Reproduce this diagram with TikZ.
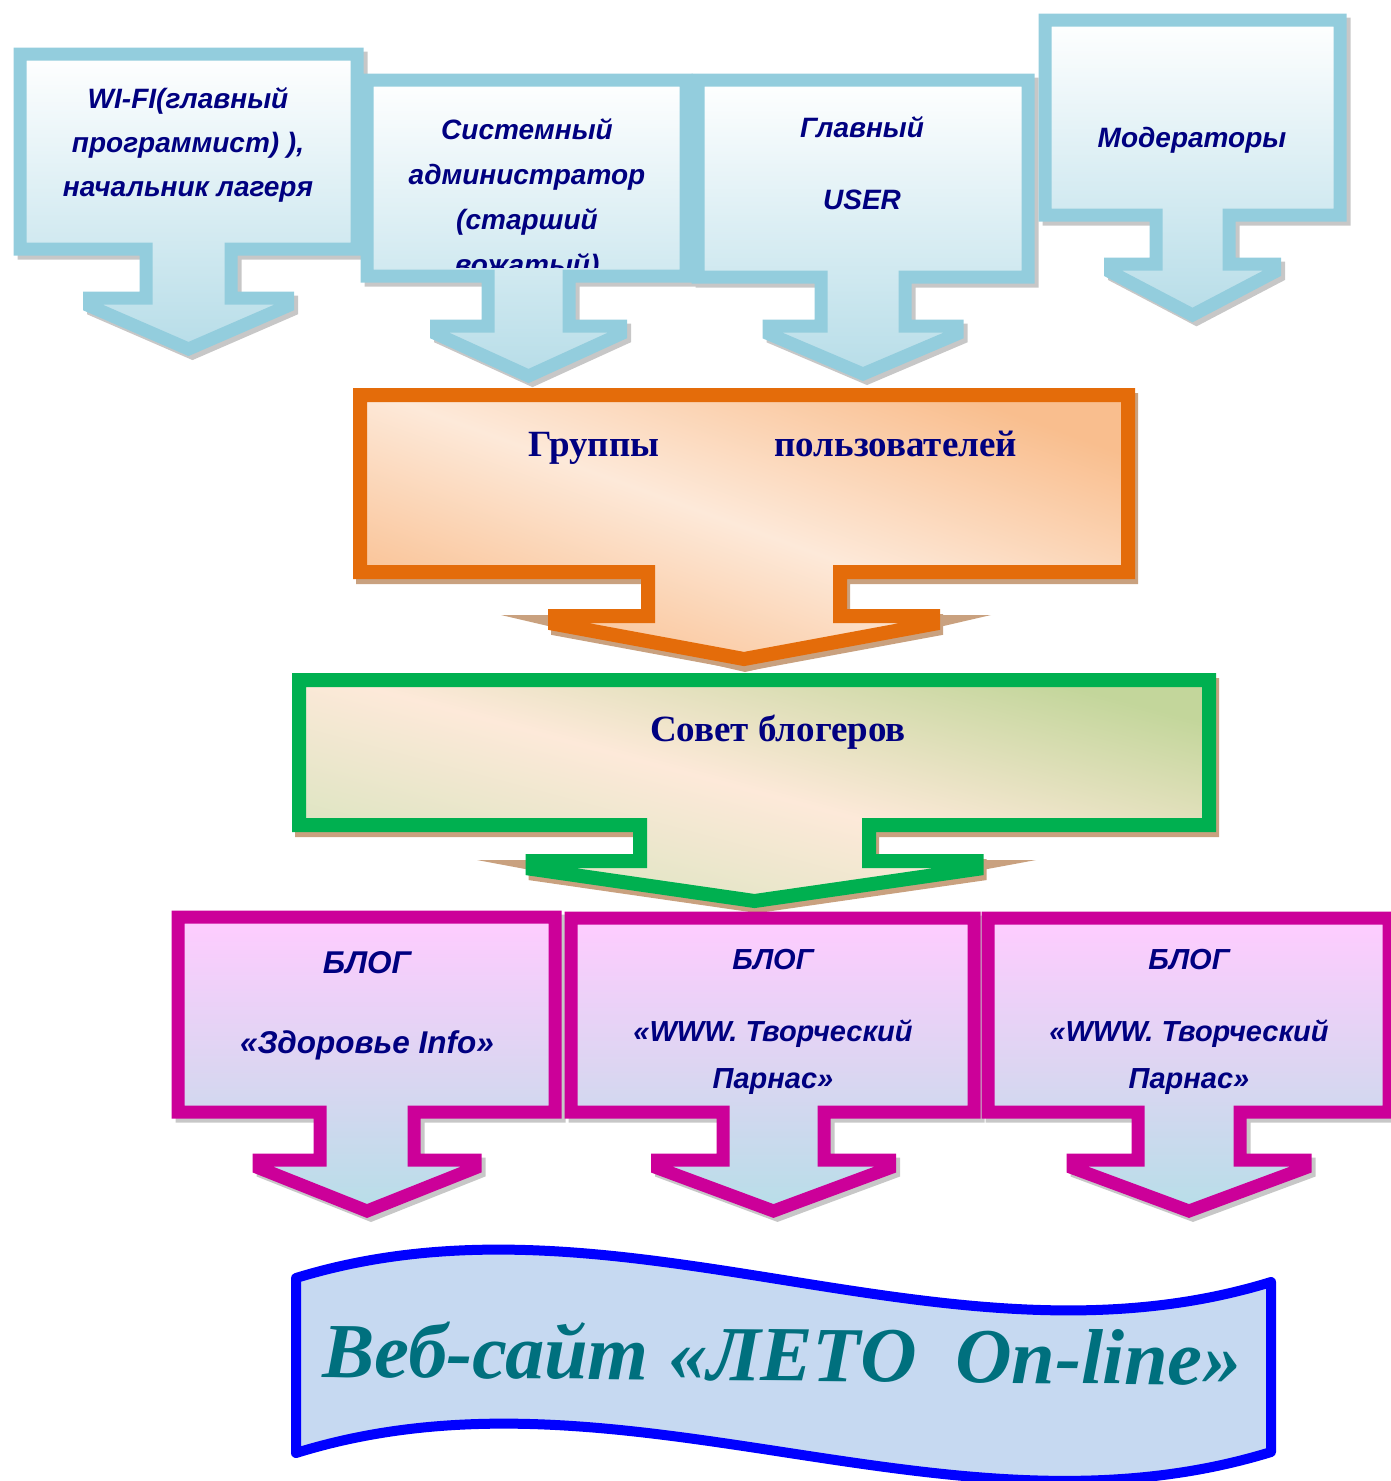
\documentclass[tikz,border=0pt]{standalone}
\usepackage{fontspec}
\setmainfont{Liberation Serif}
\setsansfont{Liberation Sans}
\definecolor{bluebd}{HTML}{93CDDD}
\definecolor{bluefill}{HTML}{B7DDE8}
\definecolor{orangebd}{HTML}{E46C0A}
\definecolor{peach}{HTML}{FDE9D9}
\definecolor{peachdk}{HTML}{F9BE8E}
\definecolor{greenbd}{HTML}{00B050}
\definecolor{olivefill}{HTML}{C3D69B}
\definecolor{greenlt}{HTML}{D7E4BD}
\definecolor{magbd}{HTML}{CC0099}
\definecolor{pinkfill}{HTML}{FFCCFF}
\definecolor{lavfill}{HTML}{DDD5F2}
\definecolor{blogblue}{HTML}{B7DEE8}
\definecolor{navytext}{HTML}{000080}
\definecolor{shadowtan}{HTML}{C9A17F}
\definecolor{bannerbd}{HTML}{0000FF}
\definecolor{bannerfill}{HTML}{C6D9F1}
\definecolor{webteal}{HTML}{00707E}
\newcommand\wingdrop{8}
\newcommand\callout[9]{(#1,#2) -- (#3,#2) -- (#3,#4) -- (#6,#4) -- (#6,#7) -- ({(#5+#6)/2+#8},#7) -- ({(#5+#6)/2+#8},{#7+\wingdrop}) -- ({(#5+#6)/2},#9) -- ({(#5+#6)/2-#8},{#7+\wingdrop}) -- ({(#5+#6)/2-#8},#7) -- (#5,#7) -- (#5,#4) -- (#1,#4) -- cycle}
\begin{document}
\begin{tikzpicture}[x=1pt,y=-1pt,
  bluebox/.style={draw=bluebd, line width=13, line join=miter, top color=white, bottom color=bluefill},
  greyshadow/.style={draw=black!22, fill=black!22, line width=13, line join=miter, shift={(4,4)}},
  tanshadow/.style={draw=shadowtan, fill=shadowtan, line width=14, line join=miter, shift={(3,5)}},
  orangebox/.style={draw=orangebd, line width=14, line join=miter, shading=axis, top color=peachdk, bottom color=peachdk, middle color=peach, shading angle=-20},
  greenbox/.style={draw=greenbd, line width=14, line join=miter, shading=axis, top color=olivefill, bottom color=greenlt, middle color=peach, shading angle=-15},
  magbox/.style={draw=magbd, line width=13, line join=miter, top color=pinkfill, bottom color=blogblue, middle color=lavfill},
  toptext/.style={font=\sffamily\bfseries\itshape\fontsize{28}{44}\selectfont, text=navytext, align=center, inner sep=0pt},
  blogtext/.style={font=\sffamily\bfseries\itshape\fontsize{29}{47}\selectfont, text=navytext, align=center, inner sep=0pt},
  headtext/.style={font=\bfseries\fontsize{37}{40}\selectfont, text=navytext, inner sep=0pt},
  webtext/.style={font=\bfseries\itshape\fontsize{78}{80}\selectfont, inner sep=0pt}]
\useasboundingbox (0,0) rectangle (1390,1481);

% top blue callouts
\fill[greyshadow] \callout{20}{54}{357}{249}{146}{231}{298}{99}{349};
\draw[bluebox] \callout{20}{54}{357}{249}{146}{231}{298}{99}{349};
\fill[greyshadow] \callout{367}{80}{686}{276}{488}{569}{326}{92}{376};
\draw[bluebox] \callout{367}{80}{686}{276}{488}{569}{326}{92}{376};
\fill[greyshadow] \callout{698}{80}{1028}{277}{821}{905}{326}{94}{374};
\draw[bluebox] \callout{698}{80}{1028}{277}{821}{905}{326}{94}{374};
\fill[greyshadow] \callout{1045}{20}{1340}{215}{1156}{1229}{264}{82}{315};
\draw[bluebox] \callout{1045}{20}{1340}{215}{1156}{1229}{264}{82}{315};

\node[toptext] (wifi) at (188,145) {WI-FI(главный\\программист) ),\\начальник лагеря};
\begin{scope}
  \clip (373,87) rectangle (680,267);
  \node[toptext, font=\sffamily\bfseries\itshape\fontsize{28}{45}\selectfont] (sysadm) at (527,199) {Системный\\администратор\\(старший\\вожатый)};
\end{scope}
\node[toptext] (user) at (862,163) {Главный\\[28pt]USER};
\node[toptext] (moder) at (1192,140) {Модераторы};

% orange callout
\fill[shadowtan] (501,615) -- (991,615) -- (745,672) -- cycle;
\fill[tanshadow] \callout{360}{395}{1128}{572}{648}{840}{616}{189}{659};
\draw[orangebox] \callout{360}{395}{1128}{572}{648}{840}{616}{189}{659};
\node[headtext, anchor=base west] (groups) at (528,456) {Группы\hspace{115pt}пользователей};

% green callout
\fill[shadowtan] (477,860) -- (1036,860) -- (755,912) -- cycle;
\fill[tanshadow] \callout{299}{680}{1209}{825}{640}{869}{861}{222}{901};
\draw[greenbox] \callout{299}{680}{1209}{825}{640}{869}{861}{222}{901};
\node[headtext, anchor=base] (council) at (778,741) {Совет блогеров};

% blog callouts
\fill[greyshadow] \callout{178}{917}{555}{1112}{320}{414}{1160}{108}{1211};
\draw[magbox] \callout{178}{917}{555}{1112}{320}{414}{1160}{108}{1211};
\fill[greyshadow] \callout{571}{918}{974}{1112}{723}{824}{1160}{116}{1211};
\draw[magbox] \callout{571}{918}{974}{1112}{723}{824}{1160}{116}{1211};
\fill[greyshadow] \callout{988}{918}{1389}{1112}{1138}{1240}{1160}{116}{1211};
\draw[magbox] \callout{988}{918}{1389}{1112}{1138}{1240}{1160}{116}{1211};

\node[blogtext, font=\sffamily\bfseries\itshape\fontsize{31.5}{44}\selectfont] (blogA) at (367,1006) {БЛОГ\\[36pt]«Здоровье Info»};
\node[blogtext] (blogB) at (773,1022) {БЛОГ\\[25pt]«WWW. Творческий\\Парнас»};
\node[blogtext] (blogC) at (1189,1022) {БЛОГ\\[25pt]«WWW. Творческий\\Парнас»};

% banner
\draw[draw=bannerbd, fill=bannerfill, line width=10, line join=round]
  (296,1278) .. controls (621,1178) and (946,1382) .. (1271,1282)
  -- (1271,1452) .. controls (946,1552) and (621,1352) .. (296,1453) -- cycle;
\node[webtext, text=webteal, anchor=base, rotate=-0.5] (web) at (782,1381) {Веб-сайт «ЛЕТО~~On-line»};
\end{tikzpicture}
\end{document}
